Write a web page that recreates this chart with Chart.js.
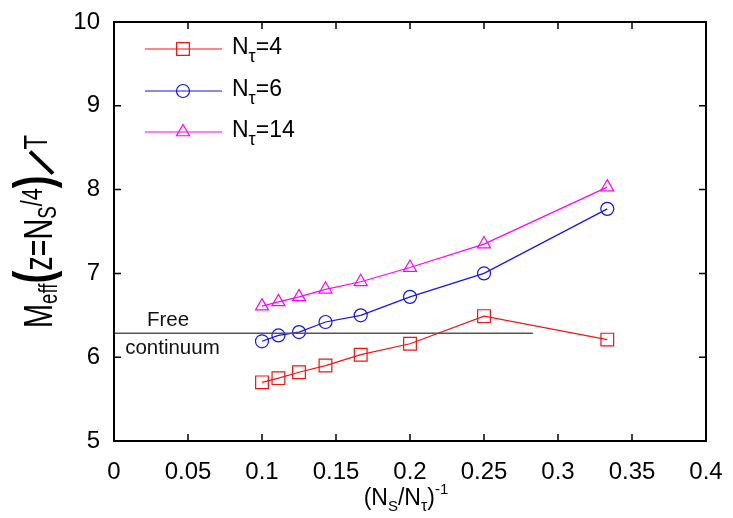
<!DOCTYPE html>
<html lang="en">
<head>
    <meta charset="UTF-8">
    <title>Meff vs (Ns/Nt)^-1</title>
    <script src="https://cdn.jsdelivr.net/npm/chart.js@4.4.0/dist/chart.umd.min.js"></script>
    <style>
        html, body{
            margin: 0;
            padding: 0;
            background: #fff;
        }
    </style>
</head>
<body>
    <canvas id="chartCanvas" width="733" height="518"></canvas>

    <script>
        // values
        var xValues = [0.1, 0.1111, 0.125, 0.1429, 0.1667, 0.2, 0.25, 0.3333];
        var nt4 = [5.70, 5.75, 5.82, 5.90, 6.03, 6.16, 6.49, 6.21];
        var nt6 = [6.19, 6.26, 6.30, 6.42, 6.50, 6.72, 7.00, 7.77];
        var nt14 = [6.61, 6.66, 6.72, 6.81, 6.90, 7.07, 7.35, 8.03];
        var seriesNames = ['4', '6', '14'];
        var freeLevel = 6.285;
        var freeRange = [0, 0.283];
        var xTicks = [0, 0.05, 0.1, 0.15, 0.2, 0.25, 0.3, 0.35, 0.4];
        var yTicks = [5, 6, 7, 8, 9, 10];

        var FONT = '"Liberation Sans", Arial, sans-serif';
        var colors = ['rgb(240,20,20)', 'rgb(20,20,235)', 'rgb(255,0,255)'];
        var styles = ['rect', 'circle', 'triangle'];
        var radii = [9, 6.5, 7.5];

        function pts(ys){
            return xValues.map(function(x, i){ return {x: x, y: ys[i]}; });
        }

        var datasets = [nt4, nt6, nt14].map(function(ys, i){
            return {
                label: 'Nt=' + seriesNames[i],
                data: pts(ys),
                borderColor: colors[i],
                borderWidth: 1.2,
                pointStyle: styles[i],
                pointRadius: radii[i],
                pointBorderWidth: 1.2,
                pointBorderColor: colors[i],
                pointBackgroundColor: 'rgba(0,0,0,0)',
                tension: 0,
                fill: false
            };
        });
        datasets.unshift({
            label: 'free',
            data: [{x: freeRange[0], y: freeLevel}, {x: freeRange[1], y: freeLevel}],
            borderColor: '#555',
            borderWidth: 1.5,
            pointRadius: 0,
            fill: false
        });

        // draws text pieces [text, font, dy] one after another, returns end x
        function runText(ctx, pieces, x, y, measureOnly){
            pieces.forEach(function(p){
                ctx.font = p[1];
                if(!measureOnly) ctx.fillText(p[0], x, y + p[2]);
                x += ctx.measureText(p[0]).width;
            });
            return x;
        }

        var decorations = {
            id: 'decorations',
            afterDraw: function(chart){
                var ctx = chart.ctx;
                var a = chart.chartArea;
                var xs = chart.scales.x, ys = chart.scales.y;
                ctx.save();

                // frame with inward ticks on all sides
                ctx.strokeStyle = '#000';
                ctx.lineWidth = 2;
                ctx.strokeRect(a.left, a.top, a.right - a.left, a.bottom - a.top);
                ctx.lineWidth = 1.5;
                ctx.beginPath();
                xTicks.slice(1, -1).forEach(function(v){
                    var px = xs.getPixelForValue(v);
                    ctx.moveTo(px, a.bottom); ctx.lineTo(px, a.bottom - 7);
                    ctx.moveTo(px, a.top); ctx.lineTo(px, a.top + 7);
                });
                yTicks.slice(1, -1).forEach(function(v){
                    var py = ys.getPixelForValue(v);
                    ctx.moveTo(a.left, py); ctx.lineTo(a.left + 7, py);
                    ctx.moveTo(a.right, py); ctx.lineTo(a.right - 7, py);
                });
                ctx.stroke();

                // free continuum label
                ctx.fillStyle = '#111';
                ctx.textAlign = 'center';
                ctx.textBaseline = 'middle';
                ctx.font = '20.5px ' + FONT;
                var fy = ys.getPixelForValue(freeLevel);
                ctx.fillText('Free', xs.getPixelForValue(0.0365), fy - 12.5);
                ctx.fillText('continuum', xs.getPixelForValue(0.0395), fy + 15.5);

                // legend
                ctx.textAlign = 'left';
                ctx.textBaseline = 'alphabetic';
                var rowY = [49, 91, 132];
                for(var i = 0; i < 3; i++){
                    var y = rowY[i];
                    ctx.strokeStyle = colors[i];
                    ctx.lineWidth = 1.2;
                    ctx.beginPath();
                    ctx.moveTo(145, y); ctx.lineTo(222, y);
                    ctx.stroke();
                    ctx.fillStyle = 'rgba(0,0,0,0)';
                    Chart.helpers.drawPoint(ctx, {pointStyle: styles[i], radius: radii[i], borderWidth: 1.2, rotation: 0}, 183, y);
                    ctx.fillStyle = '#000';
                    runText(ctx, [
                        ['N', '23px ' + FONT, 0],
                        ['\u03c4', '18px ' + FONT, 8],
                        ['=' + seriesNames[i], '23px ' + FONT, 0]
                    ], 232, y + 5);
                }

                // x axis title: (N_S/N_tau)^-1
                var xt = [
                    ['(N', '23px ' + FONT, 0],
                    ['S', '15px ' + FONT, 6],
                    ['/N', '23px ' + FONT, 0],
                    ['\u03c4', '16px ' + FONT, 6],
                    [')', '23px ' + FONT, 0],
                    ['-1', '15px ' + FONT, -11]
                ];
                var w = runText(ctx, xt, 0, 0, true);
                runText(ctx, xt, 406 - w / 2, 505);

                // y axis title, rotated: M_eff(z=N_S/4)/T
                var sx = 0.72;
                ctx.translate(52, 328);
                ctx.rotate(-Math.PI / 2);
                ctx.save();
                ctx.scale(sx, 1);
                var u = runText(ctx, [
                    ['M', '40px ' + FONT, 0],
                    ['eff', '26px ' + FONT, 5],
                    ['(', 'bold 53px ' + FONT, -1],
                    ['z=N', '40px ' + FONT, 0],
                    ['S', '26px ' + FONT, 4],
                    ['/4', '30px ' + FONT, -10],
                    [')', 'bold 53px ' + FONT, -1]
                ], 0, 0);
                ctx.restore();
                // big slash, same lean as the glyph
                var us = u * sx;
                ctx.lineWidth = 4;
                ctx.strokeStyle = '#000';
                ctx.beginPath();
                ctx.moveTo(us + 2, 1);
                ctx.lineTo(us + 24, -22);
                ctx.stroke();
                ctx.scale(sx, 1);
                runText(ctx, [['T', '33px ' + FONT, -5]], (us + 26) / sx, 0);

                ctx.restore();
            }
        };

        var ctx = document.getElementById('chartCanvas').getContext('2d');
        var chart = new Chart(ctx, {
            type: 'line',
            data: {datasets: datasets},
            options: {
                responsive: false,
                animation: false,
                devicePixelRatio: 1,
                layout: {padding: {left: 0, top: 22, right: 27, bottom: 0}},
                plugins: {
                    legend: {display: false},
                    tooltip: {enabled: false}
                },
                scales: {
                    x: {
                        type: 'linear',
                        min: 0,
                        max: 0.4,
                        afterFit: function(scale){
                            scale.height = 77;
                            scale.paddingLeft = 0;
                            scale.paddingRight = 0;
                        },
                        afterBuildTicks: function(scale){
                            scale.ticks = xTicks.map(function(v){ return {value: v}; });
                        },
                        grid: {display: false, drawTicks: false},
                        border: {display: false},
                        ticks: {
                            color: '#000',
                            padding: 17,
                            maxRotation: 0,
                            font: {family: FONT, size: 24},
                            callback: function(v){ return String(parseFloat(v.toFixed(2))); }
                        }
                    },
                    y: {
                        type: 'linear',
                        min: 5,
                        max: 10,
                        afterFit: function(scale){
                            scale.width = 114;
                            scale.paddingTop = 0;
                            scale.paddingBottom = 0;
                        },
                        afterBuildTicks: function(scale){
                            scale.ticks = yTicks.map(function(v){ return {value: v}; });
                        },
                        grid: {display: false, drawTicks: false},
                        border: {display: false},
                        ticks: {
                            color: '#000',
                            padding: 14,
                            font: {family: FONT, size: 24}
                        }
                    }
                }
            },
            plugins: [decorations]
        });
    </script>
</body>
</html>
